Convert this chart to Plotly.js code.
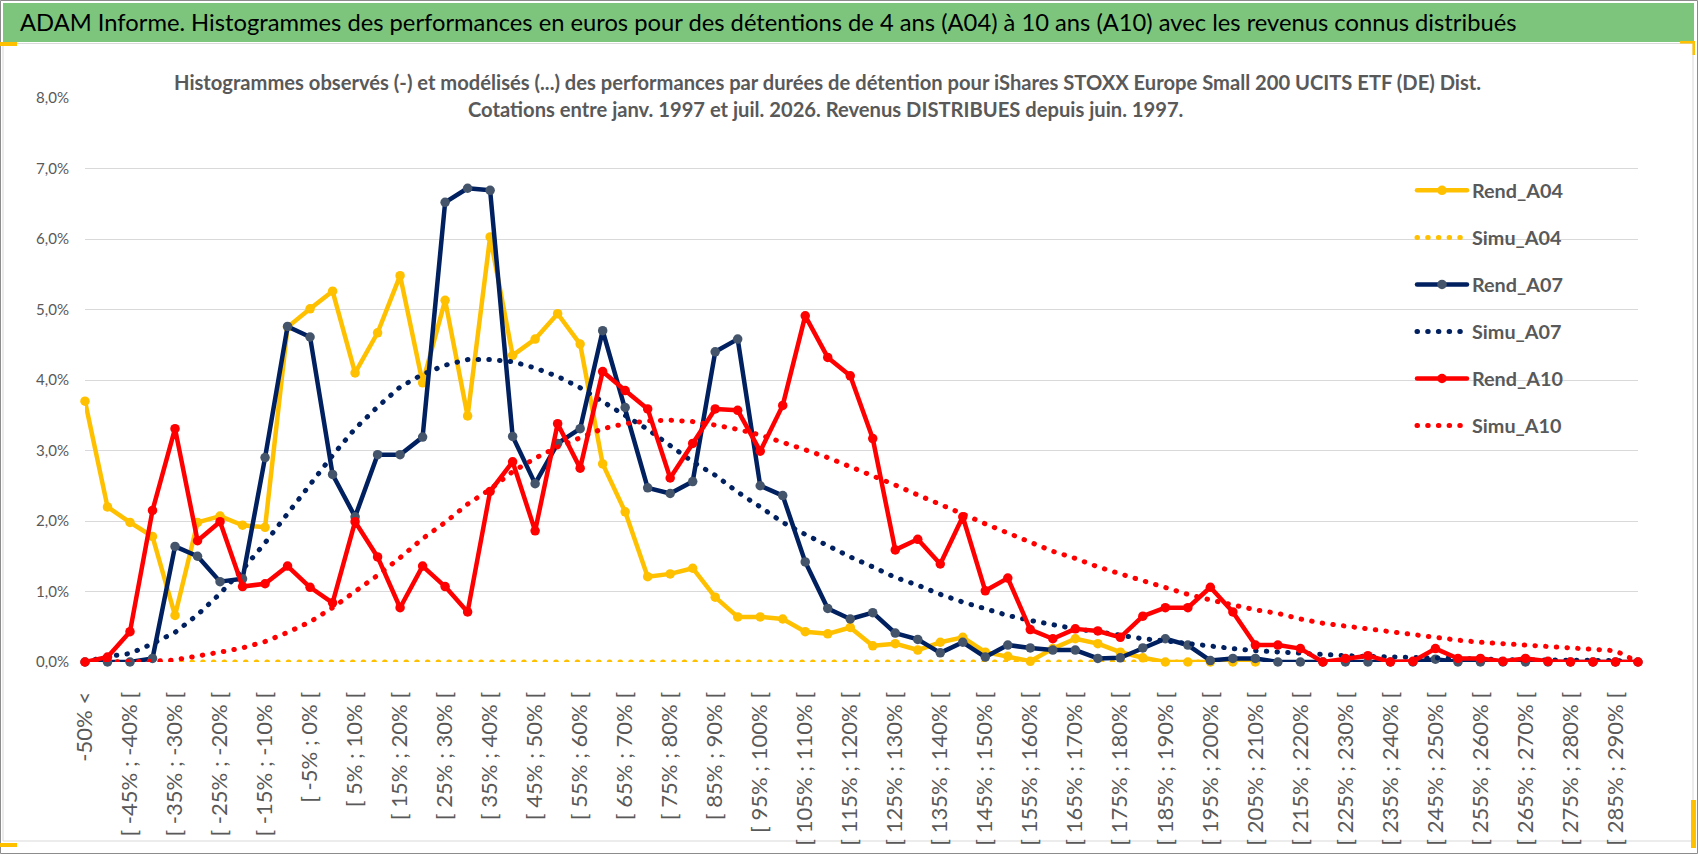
<!DOCTYPE html>
<html>
<head>
<meta charset="utf-8">
<script src="https://cdn.plot.ly/plotly-3.0.1.min.js"></script>
<style>
    html, body { margin: 0; padding: 0; background: #ffffff; }
    #chart { width: 1698px; height: 854px; }
    .scatterlayer path.js-line, .legend path.js-line { stroke-linecap: round; stroke-linejoin: round; }
</style>
</head>
<body>
<div id="chart"></div>
<script>
// categories of the performance histogram (5% buckets)
var categories = [
    "-50% <", "[ -50% ; -45% [", "[ -45% ; -40% [", "[ -40% ; -35% [", "[ -35% ; -30% [",
    "[ -30% ; -25% [", "[ -25% ; -20% [", "[ -20% ; -15% [", "[ -15% ; -10% [", "[ -10% ; -5% [",
    "[ -5% ; 0% [", "[ 0% ; 5% [", "[ 5% ; 10% [", "[ 10% ; 15% [", "[ 15% ; 20% [",
    "[ 20% ; 25% [", "[ 25% ; 30% [", "[ 30% ; 35% [", "[ 35% ; 40% [", "[ 40% ; 45% [",
    "[ 45% ; 50% [", "[ 50% ; 55% [", "[ 55% ; 60% [", "[ 60% ; 65% [", "[ 65% ; 70% [",
    "[ 70% ; 75% [", "[ 75% ; 80% [", "[ 80% ; 85% [", "[ 85% ; 90% [", "[ 90% ; 95% [",
    "[ 95% ; 100% [", "[ 100% ; 105% [", "[ 105% ; 110% [", "[ 110% ; 115% [", "[ 115% ; 120% [",
    "[ 120% ; 125% [", "[ 125% ; 130% [", "[ 130% ; 135% [", "[ 135% ; 140% [", "[ 140% ; 145% [",
    "[ 145% ; 150% [", "[ 150% ; 155% [", "[ 155% ; 160% [", "[ 160% ; 165% [", "[ 165% ; 170% [",
    "[ 170% ; 175% [", "[ 175% ; 180% [", "[ 180% ; 185% [", "[ 185% ; 190% [", "[ 190% ; 195% [",
    "[ 195% ; 200% [", "[ 200% ; 205% [", "[ 205% ; 210% [", "[ 210% ; 215% [", "[ 215% ; 220% [",
    "[ 220% ; 225% [", "[ 225% ; 230% [", "[ 230% ; 235% [", "[ 235% ; 240% [", "[ 240% ; 245% [",
    "[ 245% ; 250% [", "[ 250% ; 255% [", "[ 255% ; 260% [", "[ 260% ; 265% [", "[ 265% ; 270% [",
    "[ 270% ; 275% [", "[ 275% ; 280% [", "[ 280% ; 285% [", "[ 285% ; 290% [", "[ 290% ; 295% ["
];

// observed frequencies, in %
var rendA04 = [
    3.70, 2.20, 1.98, 1.78, 0.66, 1.98, 2.07, 1.94, 1.91, 4.75,
    5.01, 5.26, 4.10, 4.67, 5.48, 3.96, 5.13, 3.49, 6.03, 4.35,
    4.58, 4.94, 4.51, 2.81, 2.13, 1.21, 1.25, 1.33, 0.92, 0.64,
    0.64, 0.61, 0.43, 0.40, 0.49, 0.23, 0.26, 0.17, 0.28, 0.35,
    0.14, 0.08, 0.01, 0.19, 0.33, 0.26, 0.14, 0.06, 0.00, 0.00,
    0.00, 0.00, 0.00, null, null, null, null, null, null, null,
    null, null, null, null, null, null, null, null, null, null
];
var rendA07 = [
    0.00, 0.00, 0.00, 0.05, 1.64, 1.50, 1.14, 1.18, 2.90, 4.76,
    4.61, 2.66, 2.06, 2.94, 2.94, 3.19, 6.52, 6.72, 6.69, 3.20,
    2.53, 3.10, 3.31, 4.70, 3.61, 2.47, 2.39, 2.56, 4.40, 4.58,
    2.50, 2.36, 1.42, 0.76, 0.61, 0.70, 0.41, 0.32, 0.13, 0.28,
    0.07, 0.24, 0.20, 0.17, 0.17, 0.05, 0.06, 0.20, 0.33, 0.24,
    0.02, 0.05, 0.05, 0.00, 0.00, 0.00, 0.00, 0.00, 0.00, 0.00,
    0.04, 0.00, 0.00, 0.00, 0.00, 0.00, 0.00, 0.00, 0.00, 0.00
];
var rendA10 = [
    0.00, 0.07, 0.43, 2.15, 3.31, 1.72, 1.99, 1.07, 1.11, 1.36,
    1.06, 0.84, 1.99, 1.49, 0.77, 1.36, 1.07, 0.71, 2.42, 2.84,
    1.86, 3.38, 2.75, 4.12, 3.85, 3.59, 2.61, 3.10, 3.59, 3.57,
    2.99, 3.64, 4.91, 4.32, 4.06, 3.17, 1.59, 1.74, 1.39, 2.06,
    1.01, 1.19, 0.46, 0.33, 0.47, 0.44, 0.35, 0.65, 0.77, 0.77,
    1.06, 0.71, 0.24, 0.24, 0.19, 0.00, 0.05, 0.09, 0.00, 0.01,
    0.19, 0.05, 0.05, 0.01, 0.05, 0.01, 0.00, 0.00, 0.00, 0.00
];

// modelled frequencies, in %
var simuA04 = [
    0.00, 0.00, 0.00, 0.00, 0.00, 0.00, 0.00, 0.00, 0.00, 0.00,
    0.00, 0.00, 0.00, 0.00, 0.00, 0.00, 0.00, 0.00, 0.00, 0.00,
    0.00, 0.00, 0.00, 0.00, 0.00, 0.00, 0.00, 0.00, 0.00, 0.00,
    0.00, 0.00, 0.00, 0.00, 0.00, 0.00, 0.00, 0.00, 0.00, 0.00,
    0.00, 0.00, 0.00, 0.00, 0.00, 0.00, 0.00, 0.00, 0.00, 0.00,
    0.00, 0.00, 0.00, null, null, null, null, null, null, null,
    null, null, null, null, null, null, null, null, null, null
];
var simuA07 = [
    0.00, 0.08, 0.12, 0.26, 0.42, 0.67, 0.97, 1.31, 1.69, 2.10,
    2.51, 2.93, 3.31, 3.62, 3.90, 4.08, 4.21, 4.29, 4.29, 4.26,
    4.17, 4.05, 3.89, 3.70, 3.51, 3.30, 3.07, 2.84, 2.65, 2.41,
    2.20, 1.98, 1.81, 1.64, 1.49, 1.35, 1.20, 1.09, 0.96, 0.85,
    0.76, 0.66, 0.59, 0.53, 0.47, 0.43, 0.38, 0.33, 0.30, 0.26,
    0.22, 0.19, 0.16, 0.14, 0.12, 0.10, 0.09, 0.08, 0.07, 0.06,
    0.05, 0.045, 0.04, 0.035, 0.03, 0.03, 0.025, 0.02, 0.02, 0.00
];
var simuA10 = [
    0.00, 0.00, 0.00, 0.01, 0.03, 0.08, 0.14, 0.20, 0.29, 0.42,
    0.57, 0.77, 0.99, 1.23, 1.48, 1.75, 1.98, 2.24, 2.45, 2.70,
    2.89, 3.05, 3.18, 3.31, 3.38, 3.42, 3.43, 3.41, 3.36, 3.30,
    3.22, 3.12, 3.01, 2.90, 2.77, 2.65, 2.51, 2.37, 2.24, 2.10,
    1.96, 1.83, 1.70, 1.57, 1.47, 1.35, 1.25, 1.15, 1.05, 0.96,
    0.88, 0.81, 0.74, 0.69, 0.61, 0.55, 0.51, 0.46, 0.42, 0.38,
    0.35, 0.31, 0.28, 0.26, 0.24, 0.22, 0.19, 0.18, 0.16, 0.00
];

var yTicks = [0, 1, 2, 3, 4, 5, 6, 7, 8];

var chartTitle = "ADAM Informe. Histogrammes des performances en euros pour des détentions de 4 ans (A04) à 10 ans (A10) avec les revenus connus distribués";
var subTitleLine1 = "Histogrammes observés (-) et modélisés (...) des performances par durées de détention pour iShares STOXX Europe Small 200 UCITS ETF (DE) Dist.";
var subTitleLine2 = "Cotations entre janv. 1997 et juil. 2026. Revenus DISTRIBUES depuis juin. 1997.";

var GOLD = "#ffc000", NAVY = "#002060", NAVY_MARKER = "#44546a", RED = "#ff0000";
var GRID = "#d9d9d9", TEXT = "#595959";
var FONT = "Lato";

// plot area in page pixels, used to place decorations in paper coordinates
var PL = 85, PT = 98, PW = 1553, PH = 564;
function px(v) { return (v - PL) / PW; }
function py(v) { return (PT + PH - v) / PH; }

// the original uses a narrow office font: size our font so the text spans the same width
var measureCtx = document.createElement("canvas").getContext("2d");
function textWidth(text, weight)
{
    measureCtx.font = weight + " 100px " + FONT + ", sans-serif";
    return measureCtx.measureText(text).width / 100;
}
function fitSize(text, weight, width)
{
    return width / textWidth(text, weight);
}

var titleSize = fitSize(chartTitle, "normal", 1497);
var subTitleSize = (1315 + 711) / (textWidth(subTitleLine1, "bold") + textWidth(subTitleLine2, "bold"));
var legendSize = fitSize("Rend_A04", "bold", 91);
var xTickSize = fitSize("[ 175% ; 180% [", "normal", 154);
var yTickSize = fitSize("0,0%", "normal", 33);

var xIndex = categories.map((c, i) => i);
var labelIndex = xIndex.filter(i => i % 2 === 0);
var gridIndex = xIndex.filter(i => i % 4 === 0 && i < categories.length - 1);

function rendTrace(name, values, lineColor, markerColor)
{
    return {
        x: xIndex, y: values, text: categories, name: name, legendgroup: name,
        type: "scatter", mode: "lines+markers", cliponaxis: false,
        line: { color: lineColor, width: 4.5 },
        marker: { color: markerColor, size: 9.5 }
    };
}

function simuTrace(name, values, color)
{
    return {
        x: xIndex, y: values, text: categories, name: name, legendgroup: name,
        type: "scatter", mode: "lines", cliponaxis: false,
        line: { color: color, width: 5, dash: "0.5px,10.2px" }
    };
}

var plotData = [
    rendTrace("Rend_A04", rendA04, GOLD, GOLD),
    simuTrace("Simu_A04", simuA04, GOLD),
    rendTrace("Rend_A07", rendA07, NAVY, NAVY_MARKER),
    simuTrace("Simu_A07", simuA07, NAVY),
    rendTrace("Rend_A10", rendA10, RED, RED),
    simuTrace("Simu_A10", simuA10, RED)
];

function rect(x0, y0, x1, y1, fill, lineColor, layer)
{
    return {
        type: "rect", xref: "paper", yref: "paper",
        x0: px(x0), x1: px(x1), y0: py(y1), y1: py(y0),
        fillcolor: fill, layer: layer || "below",
        line: { color: lineColor || "rgba(0,0,0,0)", width: lineColor ? 1 : 0 }
    };
}

var shapes = [
    rect(0.5, 0.5, 1697.5, 853.5, "rgba(0,0,0,0)", "#8c8c8c"),
    rect(3, 3, 1694, 42, "#7dc57c"),
    rect(3, 43.5, 1693, 841, "rgba(0,0,0,0)", GRID),
    rect(163, 62, 1491, 129, "#ffffff", null, "between"),
    rect(1363, 170, 1617, 452, "#ffffff", null, "between"),
    rect(0, 42, 17, 46, GOLD),
    rect(0, 843, 17, 847, GOLD),
    rect(1680, 41, 1695, 43.5, GOLD),
    rect(1692.5, 41, 1695, 55, GOLD),
    rect(1691, 800, 1696, 848, GOLD)
];

var layout = {
    width: 1698, height: 854,
    margin: { l: PL, r: 1698 - PL - PW, t: PT, b: 854 - PT - PH, pad: 0 },
    paper_bgcolor: "#ffffff", plot_bgcolor: "rgba(0,0,0,0)",
    showlegend: true,
    hovermode: false,
    title: {
        text: chartTitle,
        font: { family: FONT + ", sans-serif", size: titleSize, color: "#000000" },
        x: 20 / 1698, xref: "container", xanchor: "left",
        y: 1 - 23 / 854, yref: "container", yanchor: "middle"
    },
    annotations: [
        {
            text: "<b>" + subTitleLine1 + "</b>", showarrow: false,
            xref: "paper", yref: "paper", x: px(827), y: py(82), xanchor: "center", yanchor: "middle",
            font: { family: FONT + ", sans-serif", size: subTitleSize, color: TEXT }
        },
        {
            text: "<b>" + subTitleLine2 + "</b>", showarrow: false,
            xref: "paper", yref: "paper", x: px(825), y: py(109), xanchor: "center", yanchor: "middle",
            font: { family: FONT + ", sans-serif", size: subTitleSize, color: TEXT }
        }
    ],
    shapes: shapes,
    legend: {
        x: px(1412), y: py(171), xanchor: "left", yanchor: "top",
        bgcolor: "rgba(0,0,0,0)", borderwidth: 0,
        itemwidth: 50, traceorder: "grouped", tracegroupgap: Math.max(0, 47 - 1.45 * legendSize),
        font: { family: FONT + ", sans-serif", size: legendSize, color: TEXT, weight: "bold" }
    },
    xaxis: {
        range: [0, categories.length - 1],
        tickmode: "array", tickvals: labelIndex, ticktext: labelIndex.map(i => categories[i]),
        tickangle: -90, ticks: "outside", ticklen: 20, tickcolor: "rgba(0,0,0,0)",
        tickfont: { family: FONT + ", sans-serif", size: xTickSize, color: TEXT },
        showgrid: false, zeroline: false, showline: false, fixedrange: true
    },
    xaxis2: {
        overlaying: "x", anchor: "y", side: "bottom",
        range: [0, categories.length - 1],
        tickmode: "array", tickvals: gridIndex,
        showticklabels: false, ticks: "outside", ticklen: 6, tickcolor: GRID,
        showgrid: true, gridcolor: GRID, gridwidth: 1,
        zeroline: false, showline: false, fixedrange: true
    },
    yaxis: {
        range: [0, 8], tickmode: "array", tickvals: yTicks,
        ticktext: yTicks.map(v => v.toFixed(1).replace(".", ",") + "%"),
        ticks: "outside", ticklen: 12, tickcolor: "rgba(0,0,0,0)",
        tickfont: { family: FONT + ", sans-serif", size: yTickSize, color: TEXT },
        showgrid: true, gridcolor: GRID, gridwidth: 1,
        zeroline: false, showline: false, fixedrange: true
    }
};

var config = { displayModeBar: false, staticPlot: true, responsive: false };

Plotly.newPlot("chart", plotData, layout, config);
</script>
</body>
</html>
